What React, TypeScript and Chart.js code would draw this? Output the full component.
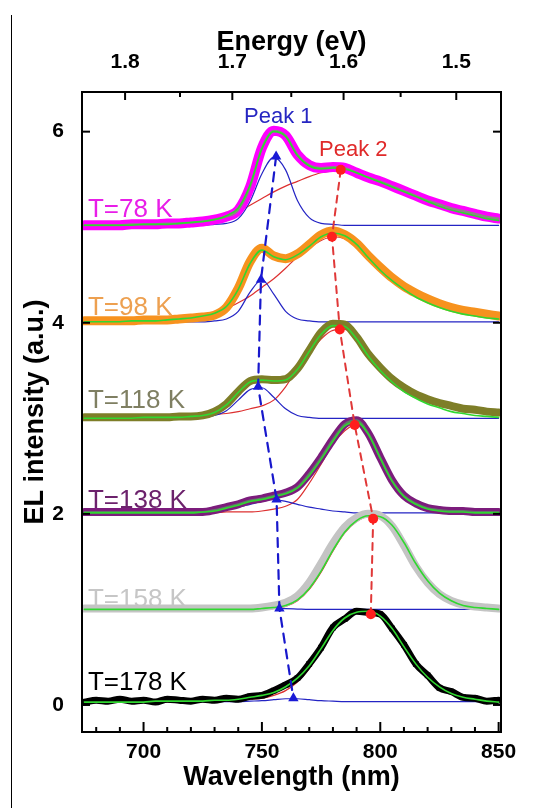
import React, { useEffect, useRef } from 'react';
import { Chart, registerables } from 'chart.js';

Chart.register(...registerables);

// ---------- data ----------
const wavelengths = [675, 680, 685, 690, 695, 700, 705, 710, 715, 720, 725, 730, 735, 740, 745, 750, 755, 760, 765, 770, 775, 780, 785, 790, 795, 800, 805, 810, 815, 820, 825, 830, 835, 840, 845, 850];

const temperatureLabels = ['T=78 K', 'T=98 K', 'T=118 K', 'T=138 K', 'T=158 K', 'T=178 K'];

const measured78 = [5.02, 5.02, 5.02, 5.02, 5.03, 5.03, 5.03, 5.04, 5.04, 5.05, 5.06, 5.08, 5.11, 5.18, 5.42, 5.83, 6.01, 5.96, 5.76, 5.65, 5.62, 5.63, 5.62, 5.57, 5.52, 5.48, 5.43, 5.38, 5.33, 5.28, 5.24, 5.20, 5.17, 5.14, 5.11, 5.09];
const fit78 = [5.02, 5.02, 5.02, 5.02, 5.02, 5.03, 5.03, 5.03, 5.04, 5.05, 5.06, 5.08, 5.12, 5.20, 5.44, 5.82, 6.00, 5.95, 5.75, 5.64, 5.61, 5.62, 5.61, 5.57, 5.52, 5.47, 5.42, 5.37, 5.32, 5.27, 5.22, 5.18, 5.15, 5.12, 5.09, 5.07];
const peak1Fit78 = [5.02, 5.02, 5.02, 5.02, 5.02, 5.02, 5.02, 5.02, 5.02, 5.02, 5.02, 5.03, 5.04, 5.09, 5.27, 5.56, 5.73, 5.60, 5.28, 5.10, 5.04, 5.03, 5.02, 5.02, 5.02, 5.02, 5.02, 5.02, 5.02, 5.02, 5.02, 5.02, 5.02, 5.02, 5.02, 5.02];
const peak2Fit78 = [5.02, 5.02, 5.03, 5.03, 5.03, 5.04, 5.04, 5.05, 5.06, 5.07, 5.08, 5.10, 5.13, 5.17, 5.23, 5.30, 5.37, 5.43, 5.48, 5.53, 5.57, 5.59, 5.60, 5.57, 5.52, 5.48, 5.43, 5.38, 5.33, 5.28, 5.24, 5.20, 5.17, 5.14, 5.11, 5.09];

const measured98 = [4.02, 4.02, 4.02, 4.02, 4.02, 4.03, 4.03, 4.03, 4.04, 4.05, 4.06, 4.08, 4.16, 4.36, 4.64, 4.78, 4.70, 4.67, 4.72, 4.82, 4.92, 4.96, 4.92, 4.83, 4.70, 4.58, 4.47, 4.38, 4.31, 4.25, 4.20, 4.16, 4.13, 4.11, 4.09, 4.07];
const fit98 = [4.01, 4.01, 4.01, 4.01, 4.02, 4.02, 4.02, 4.03, 4.04, 4.05, 4.07, 4.10, 4.17, 4.35, 4.62, 4.76, 4.69, 4.66, 4.71, 4.80, 4.90, 4.94, 4.91, 4.82, 4.68, 4.55, 4.44, 4.35, 4.27, 4.21, 4.16, 4.12, 4.09, 4.07, 4.05, 4.04];
const peak1Fit98 = [4.01, 4.01, 4.01, 4.01, 4.01, 4.01, 4.01, 4.01, 4.01, 4.01, 4.01, 4.02, 4.04, 4.12, 4.32, 4.45, 4.30, 4.12, 4.04, 4.02, 4.01, 4.01, 4.01, 4.01, 4.01, 4.01, 4.01, 4.01, 4.01, 4.01, 4.01, 4.01, 4.01, 4.01, 4.01, 4.01];
const peak2Fit98 = [4.01, 4.01, 4.02, 4.02, 4.02, 4.03, 4.03, 4.04, 4.05, 4.07, 4.09, 4.11, 4.15, 4.21, 4.28, 4.37, 4.46, 4.57, 4.69, 4.78, 4.86, 4.90, 4.88, 4.80, 4.68, 4.56, 4.46, 4.37, 4.30, 4.24, 4.19, 4.15, 4.12, 4.10, 4.08, 4.07];

const measured118 = [3.01, 3.01, 3.01, 3.01, 3.01, 3.01, 3.01, 3.01, 3.02, 3.02, 3.03, 3.07, 3.15, 3.28, 3.39, 3.41, 3.40, 3.41, 3.52, 3.71, 3.90, 3.99, 3.98, 3.85, 3.67, 3.53, 3.41, 3.32, 3.25, 3.20, 3.16, 3.13, 3.10, 3.09, 3.07, 3.06];
const fit118 = [3.00, 3.00, 3.00, 3.00, 3.00, 3.01, 3.01, 3.01, 3.01, 3.02, 3.03, 3.06, 3.14, 3.27, 3.38, 3.40, 3.39, 3.40, 3.51, 3.70, 3.88, 3.97, 3.96, 3.83, 3.65, 3.50, 3.38, 3.28, 3.21, 3.15, 3.11, 3.07, 3.05, 3.03, 3.02, 3.01];
const peak1Fit118 = [3.00, 3.00, 3.00, 3.00, 3.00, 3.00, 3.00, 3.00, 3.00, 3.00, 3.01, 3.03, 3.08, 3.19, 3.30, 3.32, 3.22, 3.10, 3.03, 3.01, 3.00, 3.00, 3.00, 3.00, 3.00, 3.00, 3.00, 3.00, 3.00, 3.00, 3.00, 3.00, 3.00, 3.00, 3.00, 3.00];
const peak2Fit118 = [3.00, 3.00, 3.00, 3.00, 3.01, 3.01, 3.01, 3.01, 3.01, 3.02, 3.03, 3.04, 3.05, 3.07, 3.10, 3.13, 3.19, 3.33, 3.52, 3.68, 3.83, 3.92, 3.93, 3.84, 3.66, 3.53, 3.40, 3.31, 3.24, 3.19, 3.15, 3.12, 3.10, 3.08, 3.07, 3.06];

const measured138 = [2.02, 2.02, 2.02, 2.02, 2.02, 2.02, 2.02, 2.02, 2.02, 2.02, 2.02, 2.04, 2.07, 2.10, 2.14, 2.16, 2.19, 2.22, 2.28, 2.42, 2.59, 2.78, 2.94, 2.98, 2.84, 2.59, 2.35, 2.19, 2.11, 2.06, 2.04, 2.03, 2.03, 2.02, 2.02, 2.02];
const fit138 = [2.01, 2.01, 2.01, 2.01, 2.01, 2.01, 2.01, 2.01, 2.01, 2.01, 2.02, 2.03, 2.06, 2.09, 2.13, 2.15, 2.18, 2.21, 2.27, 2.40, 2.57, 2.76, 2.92, 2.96, 2.83, 2.58, 2.34, 2.18, 2.10, 2.05, 2.03, 2.02, 2.02, 2.01, 2.01, 2.01];
const peak1Fit138 = [2.01, 2.01, 2.01, 2.01, 2.01, 2.01, 2.01, 2.01, 2.01, 2.01, 2.02, 2.03, 2.05, 2.07, 2.10, 2.13, 2.15, 2.13, 2.10, 2.07, 2.05, 2.03, 2.02, 2.01, 2.01, 2.01, 2.01, 2.01, 2.01, 2.01, 2.01, 2.01, 2.01, 2.01, 2.01, 2.01];
const peak2Fit138 = [2.01, 2.01, 2.01, 2.01, 2.01, 2.01, 2.01, 2.01, 2.01, 2.01, 2.01, 2.01, 2.02, 2.02, 2.02, 2.03, 2.05, 2.08, 2.15, 2.32, 2.52, 2.73, 2.87, 2.94, 2.84, 2.60, 2.36, 2.19, 2.11, 2.06, 2.04, 2.03, 2.02, 2.02, 2.02, 2.02];

const measured158 = [1.01, 1.01, 1.01, 1.01, 1.01, 1.01, 1.01, 1.01, 1.01, 1.01, 1.01, 1.01, 1.01, 1.01, 1.01, 1.02, 1.04, 1.07, 1.14, 1.28, 1.48, 1.69, 1.86, 1.96, 2.00, 1.98, 1.87, 1.67, 1.45, 1.28, 1.16, 1.09, 1.05, 1.03, 1.02, 1.01];
const fit158 = [1.00, 1.00, 1.00, 1.00, 1.00, 1.00, 1.00, 1.00, 1.00, 1.00, 1.00, 1.00, 1.00, 1.00, 1.00, 1.01, 1.02, 1.04, 1.10, 1.22, 1.40, 1.62, 1.81, 1.93, 1.98, 1.97, 1.88, 1.70, 1.48, 1.30, 1.17, 1.09, 1.04, 1.02, 1.01, 1.00];
const peak1Fit158 = [1.00, 1.00, 1.00, 1.00, 1.00, 1.00, 1.00, 1.00, 1.00, 1.00, 1.00, 1.00, 1.00, 1.00, 1.00, 1.005, 1.01, 1.008, 1.004, 1.00, 1.00, 1.00, 1.00, 1.00, 1.00, 1.00, 1.00, 1.00, 1.00, 1.00, 1.00, 1.00, 1.00, 1.00, 1.00, 1.00];
const peak2Fit158 = [1.00, 1.00, 1.00, 1.00, 1.00, 1.00, 1.00, 1.00, 1.00, 1.00, 1.00, 1.00, 1.00, 1.00, 1.00, 1.00, 1.01, 1.03, 1.09, 1.21, 1.39, 1.61, 1.80, 1.92, 1.97, 1.96, 1.87, 1.69, 1.47, 1.29, 1.16, 1.08, 1.04, 1.02, 1.01, 1.00];

const measured178 = [0.03, 0.05, 0.04, 0.06, 0.04, 0.05, 0.03, 0.06, 0.05, 0.04, 0.06, 0.05, 0.07, 0.06, 0.09, 0.10, 0.15, 0.21, 0.28, 0.43, 0.60, 0.81, 0.90, 0.98, 0.97, 0.95, 0.80, 0.63, 0.43, 0.31, 0.18, 0.14, 0.08, 0.07, 0.04, 0.05];
const fit178 = [0.03, 0.03, 0.03, 0.03, 0.03, 0.03, 0.04, 0.04, 0.04, 0.04, 0.04, 0.05, 0.05, 0.06, 0.08, 0.10, 0.13, 0.19, 0.28, 0.41, 0.59, 0.78, 0.91, 0.97, 0.98, 0.93, 0.80, 0.61, 0.43, 0.29, 0.19, 0.12, 0.08, 0.06, 0.04, 0.03];
const peak1Fit178 = [0.035, 0.035, 0.035, 0.035, 0.035, 0.035, 0.035, 0.035, 0.035, 0.035, 0.035, 0.035, 0.035, 0.035, 0.04, 0.045, 0.055, 0.065, 0.065, 0.055, 0.045, 0.04, 0.035, 0.035, 0.035, 0.035, 0.035, 0.035, 0.035, 0.035, 0.035, 0.035, 0.035, 0.035, 0.035, 0.035];
const peak2Fit178 = [0.03, 0.03, 0.03, 0.03, 0.03, 0.03, 0.03, 0.03, 0.03, 0.03, 0.04, 0.04, 0.04, 0.05, 0.06, 0.07, 0.10, 0.15, 0.24, 0.38, 0.57, 0.77, 0.90, 0.96, 0.97, 0.92, 0.79, 0.60, 0.42, 0.28, 0.18, 0.11, 0.07, 0.05, 0.04, 0.03];

const peak1Wavelength = [756.0, 749.6, 748.4, 756.2, 757.4, 763.3];
const peak1Intensity = [5.74, 4.45, 3.33, 2.15, 1.01, 0.07];
const peak2Wavelength = [783.3, 779.6, 782.9, 789.2, 797.0, 796.0];
const peak2Intensity = [5.60, 4.90, 3.93, 2.93, 1.95, 0.95];

// axis ticks
const wavelengthTicks = [700, 750, 800, 850];
const wavelengthMinorTicks = [680, 690, 710, 720, 730, 740, 760, 770, 780, 790, 810, 820, 830, 840];
const energyTickLabels = ['1.8', '1.7', '1.6', '1.5'];
const energyTickNm = [692.2, 737.5, 784.5, 832.1];
const energyMinorNm = [715.4, 762.4, 808.6];
const intensityTicks = [0, 2, 4, 6];

// label anchors (data units)
const tempLabelX = 676.5;
const tempLabelY = [5.107, 4.081, 3.108, 2.062, 1.026, 0.157];
const peakLabels = ['Peak 1', 'Peak 2'];
const peakLabelX = [756.9, 788.6];
const peakLabelY = [6.09, 5.745];

const FONT = "'Liberation Sans', Arial, Helvetica, sans-serif";

const spectra = [
  { measured: measured78, fit: fit78, p1: peak1Fit78, p2: peak2Fit78, color: '#ff00ff', labelColor: '#e81ee8', width: 10, inner: '#8a8a80' },
  { measured: measured98, fit: fit98, p1: peak1Fit98, p2: peak2Fit98, color: '#f7921e', labelColor: '#eda050', width: 9, inner: null },
  { measured: measured118, fit: fit118, p1: peak1Fit118, p2: peak2Fit118, color: '#7e7e28', labelColor: '#7f7f62', width: 8, inner: null },
  { measured: measured138, fit: fit138, p1: peak1Fit138, p2: peak2Fit138, color: '#7c1c7c', labelColor: '#6c226c', width: 8, inner: '#5f7a66' },
  { measured: measured158, fit: fit158, p1: peak1Fit158, p2: peak2Fit158, color: '#c4c4c4', labelColor: '#c6c6c6', width: 8, inner: null },
  { measured: measured178, fit: fit178, p1: peak1Fit178, p2: peak2Fit178, color: '#000000', labelColor: '#000000', width: 7, inner: null },
];

const pts = (ys: number[]) => wavelengths.map((w, i) => ({ x: w, y: ys[i] }));

const decorPlugin = {
  id: 'decor',
  beforeDatasetsDraw(chart: any) {
    const { ctx, scales } = chart;
    const x = scales.x;
    const y = scales.y;
    ctx.save();
    ctx.font = `26px ${FONT}`;
    ctx.textAlign = 'left';
    ctx.textBaseline = 'alphabetic';
    temperatureLabels.forEach((t, i) => {
      ctx.fillStyle = spectra[i].labelColor;
      ctx.fillText(t, x.getPixelForValue(tempLabelX), y.getPixelForValue(tempLabelY[i]));
    });
    ctx.restore();
  },
  afterDatasetsDraw(chart: any) {
    const { ctx, chartArea, scales } = chart;
    const { left, right, top, bottom } = chartArea;
    const x = scales.x;
    const y = scales.y;
    ctx.save();
    // peak labels
    ctx.font = `22px ${FONT}`;
    ctx.textAlign = 'center';
    ctx.textBaseline = 'alphabetic';
    const peakColors = ['#2626c2', '#e02a2a'];
    peakLabels.forEach((t, i) => {
      ctx.fillStyle = peakColors[i];
      ctx.fillText(t, x.getPixelForValue(peakLabelX[i]), y.getPixelForValue(peakLabelY[i]));
    });
    // inward ticks
    ctx.strokeStyle = '#000';
    ctx.lineWidth = 2;
    const seg = (x1: number, y1: number, x2: number, y2: number) => {
      ctx.beginPath();
      ctx.moveTo(x1, y1);
      ctx.lineTo(x2, y2);
      ctx.stroke();
    };
    wavelengthTicks.forEach((v) => { const p = x.getPixelForValue(v); seg(p, bottom, p, bottom - 10); });
    wavelengthMinorTicks.forEach((v) => { const p = x.getPixelForValue(v); seg(p, bottom, p, bottom - 5); });
    energyTickNm.forEach((v) => { const p = x.getPixelForValue(v); seg(p, top, p, top + 8); });
    energyMinorNm.forEach((v) => { const p = x.getPixelForValue(v); seg(p, top, p, top + 5); });
    intensityTicks.forEach((v) => {
      const p = y.getPixelForValue(v);
      seg(left, p, left + 8, p);
      seg(right, p, right - 8, p);
    });
    ctx.lineWidth = 2;
    ctx.strokeRect(left, top, right - left, bottom - top);
    ctx.restore();
  },
};

export default function App() {
  const canvasRef = useRef<HTMLCanvasElement | null>(null);

  useEffect(() => {
    if (!canvasRef.current) return;
    Chart.defaults.font.family = FONT;

    const drawList: any[] = [];
    spectra.forEach((s, i) => {
      drawList.push({ data: pts(s.p2), borderColor: '#dd3030', borderWidth: 1.2 });
      drawList.push({ data: pts(s.p1), borderColor: '#2424c4', borderWidth: 1.2 });
      if (i === 5) {
        drawList.push({
          data: pts(s.measured), borderColor: s.color, borderWidth: s.width,
          pointRadius: 4, pointStyle: 'rect', pointBackgroundColor: '#000', pointBorderWidth: 0,
        });
      } else {
        drawList.push({ data: pts(s.measured), borderColor: s.color, borderWidth: s.width });
      }
      if (s.inner) drawList.push({ data: pts(s.measured), borderColor: s.inner, borderWidth: 2 });
      drawList.push({ data: pts(s.fit), borderColor: '#30d830', borderWidth: 1.6 });
    });
    // connecting dashed lines and markers
    drawList.push({
      data: peak1Wavelength.map((w, i) => ({ x: w, y: peak1Intensity[i] })),
      borderColor: '#1818cc', borderWidth: 2.2, borderDash: [9, 7], cubicInterpolationMode: 'default', tension: 0,
      pointRadius: 6, pointStyle: 'triangle', pointBackgroundColor: '#1a1ad6', pointBorderColor: '#1a1ad6', pointBorderWidth: 0,
    });
    drawList.push({
      data: peak2Wavelength.map((w, i) => ({ x: w, y: peak2Intensity[i] })),
      borderColor: '#e03838', borderWidth: 2, borderDash: [7, 6], cubicInterpolationMode: 'default', tension: 0,
      pointRadius: 5, pointStyle: 'circle', pointBackgroundColor: '#ff1e1e', pointBorderColor: '#ff1e1e', pointBorderWidth: 0,
    });

    const N = drawList.length;
    const datasets = drawList.map((d, i) => ({
      fill: false,
      pointRadius: 0,
      cubicInterpolationMode: 'monotone',
      borderJoinStyle: 'round',
      borderCapStyle: 'round',
      ...d,
      order: N - i,
    }));

    const tickFont = { size: 21, weight: 'bold' };
    const titleFont = { size: 27, weight: 'bold' };

    const chart = new Chart(canvasRef.current, {
      type: 'line',
      data: { datasets },
      options: {
        animation: false,
        responsive: false,
        events: [],
        layout: { padding: { left: 0, right: 32, top: 0, bottom: 0 } },
        plugins: { legend: { display: false }, tooltip: { enabled: false } },
        scales: {
          x: {
            type: 'linear', position: 'bottom', min: 674, max: 851,
            grid: { display: false }, border: { display: false },
            afterBuildTicks: (s: any) => { s.ticks = wavelengthTicks.map((v) => ({ value: v })); },
            afterFit: (s: any) => { s.height = 76; },
            ticks: { color: '#000', font: tickFont, padding: 0, maxRotation: 0, autoSkip: false },
            title: { display: true, text: 'Wavelength (nm)', color: '#000', font: titleFont, padding: { top: 0, bottom: 14 } },
          },
          x2: {
            type: 'linear', position: 'top', min: 674, max: 851,
            grid: { display: false }, border: { display: false },
            afterBuildTicks: (s: any) => { s.ticks = energyTickNm.map((v) => ({ value: v })); },
            afterFit: (s: any) => { s.height = 92; },
            ticks: {
              color: '#000', font: tickFont, padding: 9, maxRotation: 0, autoSkip: false,
              callback: (_v: any, i: number) => energyTickLabels[i],
            },
            title: { display: true, text: 'Energy (eV)', color: '#000', font: titleFont, padding: { top: 26, bottom: 0 } },
          },
          y: {
            type: 'linear', position: 'left', min: -0.283, max: 6.415,
            grid: { display: false }, border: { display: false },
            afterBuildTicks: (s: any) => { s.ticks = intensityTicks.map((v) => ({ value: v })); },
            afterFit: (s: any) => { s.width = 82; },
            ticks: { color: '#000', font: tickFont, padding: 10 },
            title: { display: true, text: 'EL intensity (a.u.)', color: '#000', font: titleFont, padding: { top: 19, bottom: 0 } },
          },
        },
      } as any,
      plugins: [decorPlugin],
    });
    return () => chart.destroy();
  }, []);

  return (
    <div style={{ position: 'fixed', left: 0, top: 0, width: 533, height: 808, background: '#fff' }}>
      <div style={{ position: 'absolute', left: 11, top: 15, width: 0, height: 793, borderLeft: '1.5px solid #000' }} />
      <canvas ref={canvasRef} width={533} height={808} style={{ width: 533, height: 808, display: 'block' }} />
    </div>
  );
}
